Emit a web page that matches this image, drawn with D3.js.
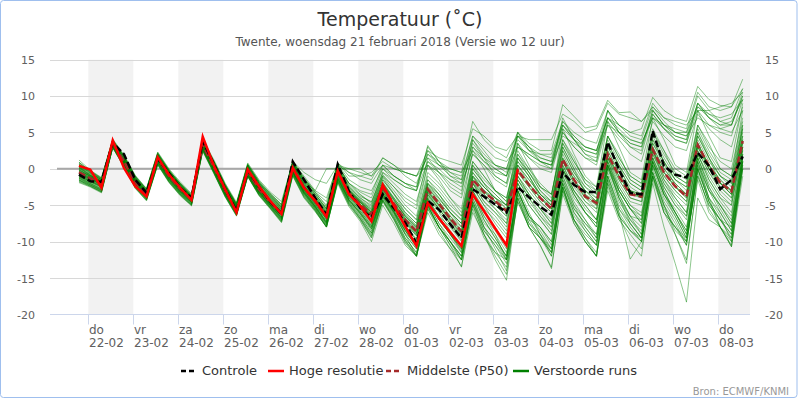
<!DOCTYPE html>
<html>
<head>
<meta charset="utf-8">
<script src="https://cdnjs.cloudflare.com/ajax/libs/d3/7.8.5/d3.min.js"></script>
<style>
  body { margin: 0; background: #fff; }
  svg text { font-family: "DejaVu Sans", Verdana, sans-serif; }
</style>
</head>
<body>
<svg id="chart" width="800" height="400"></svg>
<script>
// dag-labels onder de x-as
var dayNames = ["do", "vr", "za", "zo", "ma", "di", "wo", "do", "vr", "za", "zo", "ma", "di", "wo", "do"];
var dayDates = ["22-02", "23-02", "24-02", "25-02", "26-02", "27-02", "28-02", "01-03", "02-03", "03-03", "04-03", "05-03", "06-03", "07-03", "08-03"];
var yTicks = [-20, -15, -10, -5, 0, 5, 10, 15];

// 6-uurlijkse waarden vanaf wo 21-02 19 uur
var controle = [-0.8, -1.7, -1.8, 3.6, 2.0, -1.5, -3.3, 1.4, -0.6, -2.6, -4.0, 3.8, 0.6, -2.8, -5.8, -0.2, -2.4, -4.5, -6.2, 1.0, -1.5, -4.0, -6.3, 0.6, -3.1, -5.4, -6.7, -3.5, -5.4, -7.4, -10.2, -4.4, -5.6, -7.6, -9.5, -2.8, -3.8, -4.9, -6.0, -2.5, -3.9, -5.2, -6.3, -0.5, -2.2, -3.2, -3.2, 3.65, -0.1, -3.3, -3.5, 5.2, 0.4, -0.8, -1.2, 2.2, 0.4, -2.8, -1.5, 1.7];
var hogeResolutie = [0.4, -0.1, -2.6, 3.9, 0.1, -2.4, -3.8, 1.6, -0.8, -2.6, -4.3, 4.4, 0.4, -2.8, -6.0, -0.1, -2.4, -4.4, -6.2, 0.1, -2.6, -4.4, -6.6, -0.3, -3.5, -5.1, -7.2, -2.2, -5.1, -7.9, -10.6, -4.7, -6.8, -8.7, -10.6, -3.5, -5.8, -8.2, -10.5, -0.1];
var middelste = [-0.5, -1.3, -2.0, 3.5, 1.0, -1.8, -3.5, 1.4, -1.0, -2.8, -4.2, 3.3, 0.2, -3.0, -5.8, -0.3, -2.8, -4.6, -6.1, 0.2, -2.6, -4.5, -6.5, -0.4, -3.3, -4.9, -6.3, -2.6, -4.8, -7.0, -8.6, -2.8, -4.8, -6.8, -8.6, -1.5, -3.2, -4.4, -5.8, -0.2, -2.2, -4.0, -5.5, 1.3, -1.5, -3.8, -4.7, 2.0, -1.0, -3.5, -3.8, 2.65, -0.5, -2.4, -3.8, 3.3, 0.4, -1.9, -3.1, 3.8];

var verstoordeRuns = [
  [-0.3, -1.2, -2.2, 3.6, 1.2, -1.6, -3.4, 1.6, -0.8, -2.6, -4.0, 3.4, 0.5, -2.9, -5.4, -0.1, -2.5, -4.3, -6.0, 0.4, -2.3, -4.2, -6.2, -0.1, -3.0, -4.6, -6.0, -2.0, -4.2, -6.5, -8.0, -2.0, -4.0, -6.0, -8.0, -1.0, -2.5, -4.0, -5.5, 0.5, -1.5, -3.5, -5.0, 2.0, -1.0, -3.0, -4.5, 2.5, -0.5, -3.0, -3.5, 3.0, 0.0, -2.0, -3.5, 3.5, 0.5, -1.5, -3.0, 4.0],
  [-1.2, -2.0, -2.8, 3.2, 0.6, -2.2, -3.9, 1.0, -1.4, -3.2, -4.6, 2.9, -0.2, -3.4, -6.0, -0.7, -3.2, -5.0, -6.8, -0.4, -3.2, -5.2, -7.4, -1.2, -4.2, -6.0, -8.2, -3.6, -6.0, -8.5, -10.8, -4.5, -6.8, -9.0, -11.5, -3.5, -6.5, -9.0, -12.5, -2.5, -6.0, -9.0, -11.0, -1.0, -5.0, -8.0, -10.0, 0.5, -4.0, -7.5, -9.5, 1.0, -3.5, -6.0, -9.0, 1.5, -2.5, -5.5, -8.0, 2.0],
  [0.5, -0.6, -1.5, 3.9, 1.6, -1.2, -3.0, 2.0, -0.3, -2.2, -3.8, 3.7, 0.8, -2.5, -5.0, 0.4, -2.0, -3.8, -5.4, 0.8, -1.6, -3.5, -5.5, 0.5, -2.0, -3.5, -4.8, -0.5, -2.0, -3.5, -4.5, 1.0, -0.5, -2.0, -3.0, 3.0, 1.5, 0.0, -1.0, 4.0, 2.5, 1.5, 1.0, 6.0, 4.0, 2.5, 2.0, 7.0, 5.0, 3.5, 3.0, 8.0, 6.0, 4.5, 4.0, 9.0, 7.0, 5.5, 6.0, 10.0],
  [-0.2, -1.0, -1.8, 3.4, 1.1, -1.5, -3.2, 1.7, -0.6, -2.4, -3.9, 3.6, 0.4, -2.7, -5.2, 0.0, -2.6, -4.4, -5.8, 0.6, -2.0, -4.0, -6.0, 0.2, -2.8, -4.4, -5.6, -1.5, -3.5, -5.5, -7.0, -0.5, -2.0, -4.0, -6.0, 1.0, -1.0, -3.0, -4.0, 2.5, 0.0, -2.0, -3.5, 4.0, 1.0, -1.5, -2.5, 4.5, 1.5, -1.0, -2.0, 5.0, 2.0, -0.5, -1.5, 5.5, 2.5, 0.0, -1.0, 6.5],
  [-1.5, -2.2, -3.0, 3.0, 0.5, -2.4, -4.1, 0.8, -1.6, -3.4, -4.8, 2.7, -0.4, -3.6, -6.2, -0.9, -3.4, -5.2, -7.0, -0.6, -3.5, -5.5, -7.8, -1.5, -4.6, -6.6, -8.8, -4.0, -6.5, -9.5, -11.5, -5.0, -8.0, -10.5, -12.5, -5.0, -9.0, -12.5, -15.3, -4.0, -7.5, -9.0, -11.5, -2.0, -5.5, -7.5, -9.0, 0.0, -3.5, -6.5, -7.0, 1.0, -2.5, -5.0, -6.5, 2.0, -1.5, -4.0, -5.0, 3.0],
  [-0.7, -1.5, -2.1, 3.5, 0.9, -1.9, -3.6, 1.3, -1.1, -2.9, -4.3, 3.2, 0.1, -3.1, -5.7, -0.4, -2.9, -4.7, -6.3, 0.0, -2.8, -4.7, -6.7, -0.6, -3.6, -5.2, -6.8, -3.0, -5.2, -7.5, -9.2, -3.5, -5.5, -7.5, -9.5, -2.0, -4.0, -5.5, -7.0, -1.0, -3.0, -5.0, -6.5, 0.5, -2.5, -4.5, -6.0, 1.5, -2.0, -4.5, -5.0, 2.0, -1.5, -3.5, -5.0, 2.5, -0.5, -3.0, -4.5, 3.0],
  [0.8, -0.4, -1.4, 4.0, 1.8, -1.0, -2.8, 2.2, -0.2, -2.0, -3.6, 3.9, 1.0, -2.2, -4.8, 0.6, -1.8, -3.5, -5.0, 1.0, -1.5, -3.0, 0.0, 0.0, 0.0, 0.0, -1.0, 1.5, 0.5, -1.0, -2.0, 2.0, 0.5, -0.5, -1.5, 3.5, 1.5, 0.5, 0.0, 4.5, 2.5, 2.0, 2.0, 6.5, 5.0, 4.0, 3.5, 8.0, 6.0, 5.0, 4.5, 9.0, 7.0, 6.0, 5.5, 10.5, 8.5, 8.0, 8.5, 12.3],
  [-1.0, -1.7, -2.4, 3.3, 0.8, -2.0, -3.7, 1.2, -1.2, -3.0, -4.4, 3.1, 0.0, -3.2, -5.8, -0.5, -3.0, -4.8, -6.4, -0.1, -2.9, -4.9, -6.9, -0.8, -3.8, -5.5, -7.4, -3.2, -5.6, -8.0, -9.8, -3.8, -6.0, -8.5, -10.5, -2.5, -5.0, -7.5, -9.5, -1.5, -4.0, -6.5, -8.5, 0.0, -3.5, -6.0, -7.5, 1.0, -3.0, -5.5, -7.0, 1.5, -2.0, -4.5, -6.5, 2.0, -1.5, -4.0, -6.0, 2.5],
  [0.2, -0.9, -1.7, 3.7, 1.3, -1.4, -3.1, 1.8, -0.5, -2.3, -3.9, 3.5, 0.6, -2.6, -5.1, 0.2, -2.3, -4.0, -5.6, 0.7, -1.9, -3.9, -5.8, 0.3, -2.5, -4.0, -5.2, -1.0, -3.0, -5.0, -6.5, 0.5, -1.5, -4.0, -5.5, 2.5, 0.0, -3.0, -4.5, 3.5, 0.5, -2.5, -4.0, 5.5, 2.0, -1.0, -2.5, 6.5, 3.0, -0.5, -1.5, 7.0, 4.0, 0.5, -0.5, 8.0, 4.5, 1.5, 1.0, 9.0],
  [-1.8, -2.4, -3.2, 2.9, 0.3, -2.6, -4.3, 0.6, -1.8, -3.6, -5.0, 2.5, -0.6, -3.8, -6.4, -1.0, -3.6, -5.4, -7.2, -0.8, -3.8, -5.8, -8.0, -1.8, -5.0, -7.0, -9.5, -4.5, -7.0, -10.0, -12.0, -5.5, -8.5, -11.0, -13.4, -6.0, -9.0, -11.5, -13.5, -4.5, -8.0, -10.5, -13.7, -3.0, -7.0, -9.5, -12.0, -1.5, -6.0, -12.4, -10.0, -1.0, -5.0, -8.5, -10.0, 0.0, -4.5, -8.0, -10.7, 1.0],
  [-0.4, -1.3, -1.9, 3.6, 1.0, -1.7, -3.4, 1.5, -0.9, -2.7, -4.1, 3.4, 0.3, -2.9, -5.5, -0.2, -2.7, -4.5, -6.0, 0.3, -2.5, -4.4, -6.4, -0.3, -3.2, -4.8, -6.2, -2.4, -4.6, -6.8, -8.4, -2.6, -4.5, -6.5, -8.4, -1.2, -3.0, -4.5, -6.0, 0.0, -2.0, -4.0, -5.5, 1.5, -1.5, -4.0, -5.0, 2.0, -1.0, -3.5, -4.0, 2.5, -0.5, -2.5, -4.0, 3.0, 0.0, -2.0, -3.5, 3.5],
  [0.6, -0.5, -1.6, 3.8, 1.5, -1.3, -3.0, 1.9, -0.4, -2.1, -3.7, 3.8, 0.9, -2.3, -4.9, 0.5, -1.9, -3.6, -5.2, 0.9, -1.2, -3.2, -4.5, 0.8, -0.5, -1.5, -2.0, 0.5, -1.0, -2.0, -2.5, 2.0, 1.0, 0.0, -0.5, 6.5, 4.0, 2.5, 1.5, 5.0, 3.5, 2.5, 2.5, 8.8, 7.2, 5.6, 5.9, 9.4, 7.7, 7.8, 6.5, 8.1, 6.0, 5.0, 4.5, 7.0, 6.0, 5.5, 5.0, 8.0],
  [-1.3, -2.1, -2.9, 3.1, 0.6, -2.3, -4.0, 0.9, -1.5, -3.3, -4.7, 2.8, -0.3, -3.5, -6.1, -0.8, -3.3, -5.1, -6.9, -0.5, -3.4, -5.4, -7.6, -1.4, -4.4, -6.3, -8.5, -3.8, -6.2, -9.0, -11.0, -4.8, -7.5, -10.0, -12.0, -4.0, -8.0, -11.0, -14.0, -3.0, -6.5, -8.5, -11.0, -1.5, -5.0, -7.0, -9.0, 0.5, -4.0, -7.0, -8.5, 0.5, -3.5, -6.5, -9.5, 1.0, -3.0, -6.0, -8.5, 2.0],
  [0.0, -1.1, -1.8, 3.5, 1.1, -1.6, -3.3, 1.6, -0.7, -2.5, -4.0, 3.5, 0.4, -2.8, -5.3, -0.1, -2.6, -4.3, -5.9, 0.5, -2.2, -4.1, -6.1, 0.0, -2.9, -4.4, -5.8, -1.8, -4.0, -6.0, -7.5, -1.5, -3.5, -5.5, -7.0, 0.0, -2.0, -3.5, -5.0, 1.5, -0.5, -3.0, -4.5, 3.0, 0.0, -2.5, -4.0, 3.5, 0.5, -2.0, -3.0, 4.0, 1.0, -1.5, -2.5, 4.5, 1.5, -1.0, -2.0, 5.5],
  [-0.9, -1.6, -2.3, 3.4, 0.8, -2.0, -3.7, 1.2, -1.2, -3.0, -4.4, 3.0, -0.1, -3.2, -5.9, -0.6, -3.1, -4.9, -6.5, -0.2, -3.0, -5.0, -7.0, -0.9, -3.9, -5.6, -7.6, -3.4, -5.8, -8.2, -10.2, -4.2, -6.5, -8.0, -10.0, -3.0, -5.5, -7.0, -9.0, -2.0, -4.5, -6.5, -8.0, -0.5, -4.0, -6.0, -8.0, 0.5, -3.5, -6.5, -8.0, 1.0, -3.0, -6.0, -8.5, 1.5, -2.5, -5.0, -7.0, 2.0],
  [0.3, -0.8, -1.7, 3.7, 1.4, -1.4, -3.1, 1.8, -0.5, -2.3, -3.9, 3.6, 0.6, -2.6, -5.1, 0.2, -2.2, -4.0, -5.5, 0.7, -1.8, -3.8, -5.7, 0.3, -2.4, -3.8, -4.5, -0.5, -1.5, -2.5, -3.0, 1.0, 0.0, -1.5, -2.5, 3.0, 1.0, -0.5, -1.0, 4.5, 3.0, 2.0, 1.5, 6.0, 4.5, 3.0, 2.5, 7.0, 6.0, 5.0, 5.5, 9.8, 8.0, 7.0, 6.5, 11.3, 9.5, 8.7, 8.5, 11.0],
  [-0.6, -1.4, -2.1, 3.5, 0.9, -1.8, -3.5, 1.4, -1.0, -2.8, -4.2, 3.3, 0.2, -3.0, -5.6, -0.3, -2.8, -4.6, -6.2, 0.1, -2.7, -4.6, -6.6, -0.5, -3.4, -5.0, -6.5, -2.8, -5.0, -7.2, -8.8, -3.0, -5.0, -7.0, -9.0, -1.5, -3.5, -5.0, -6.5, -0.5, -2.5, -4.5, -6.0, 1.0, -2.0, -4.0, -5.5, 2.0, -1.5, -4.0, -4.5, 2.5, -1.0, -3.0, -4.5, 3.0, 0.0, -2.5, -4.0, 3.5],
  [0.9, -0.3, -1.3, 3.9, 1.7, -1.1, -2.9, 2.1, -0.2, -2.0, -3.6, 3.9, 1.0, -2.2, -4.8, 0.6, -1.7, -3.4, -4.9, 1.0, -1.3, -3.3, -5.0, 0.6, -1.5, -2.5, -3.0, 0.0, -1.0, -2.0, -3.0, 3.2, 1.0, -0.5, -1.0, 4.5, 3.0, 1.5, 1.0, 3.0, 2.0, 1.0, 0.5, 4.5, 3.5, 2.5, 2.0, 6.0, 5.0, 4.0, 3.5, 7.0, 6.0, 5.5, 5.0, 8.5, 7.5, 7.0, 7.5, 9.5],
  [-1.6, -2.3, -3.1, 3.0, 0.4, -2.5, -4.2, 0.7, -1.7, -3.5, -4.9, 2.6, -0.5, -3.7, -6.3, -1.0, -3.5, -5.3, -7.1, -0.7, -3.6, -5.6, -7.9, -1.7, -4.8, -6.8, -9.2, -4.3, -6.8, -9.8, -12.0, -5.0, -8.0, -10.0, -12.5, -4.5, -8.5, -10.5, -12.5, -3.5, -7.0, -8.0, -10.0, -2.0, -6.0, -8.5, -10.5, -1.0, -5.5, -8.0, -10.0, -0.5, -5.0, -9.0, -13.0, -1.0, -5.0, -7.0, -9.5, 0.5],
  [-0.1, -1.0, -1.9, 3.6, 1.1, -1.6, -3.3, 1.6, -0.8, -2.6, -4.0, 3.5, 0.4, -2.8, -5.4, -0.1, -2.6, -4.4, -5.9, 0.4, -2.4, -4.3, -6.3, -0.2, -3.1, -4.6, -6.0, -2.2, -4.4, -6.6, -8.2, -2.4, -4.2, -6.0, -7.5, -0.5, -2.5, -4.0, -5.5, 1.0, -1.0, -3.5, -5.0, 2.5, -0.5, -3.0, -4.5, 3.0, 0.0, -2.5, -3.5, 3.5, 0.5, -1.5, -3.0, 4.0, 1.0, -1.0, -2.5, 4.5],
  [-1.4, -2.1, -2.9, 3.1, 0.5, -2.3, -4.0, 0.9, -1.5, -3.3, -4.7, 2.8, -0.3, -3.5, -6.1, -0.8, -3.3, -5.1, -6.8, -0.5, -3.3, -5.3, -7.5, -1.3, -4.3, -6.2, -8.3, -3.8, -6.0, -8.8, -10.5, -4.5, -7.0, -9.0, -11.0, -3.5, -7.0, -9.5, -12.0, -3.0, -7.0, -9.5, -11.5, -2.5, -7.5, -10.0, -12.0, -3.0, -7.0, -9.0, -11.0, -2.0, -8.0, -13.0, -18.3, -4.0, -7.0, -8.0, -9.5, 0.0],
  [0.1, -0.9, -1.7, 3.6, 1.2, -1.5, -3.2, 1.7, -0.6, -2.4, -3.9, 3.6, 0.5, -2.7, -5.2, 0.1, -2.4, -4.2, -5.7, 0.6, -2.1, -4.1, -6.0, 0.1, -2.7, -4.2, -5.4, -1.2, -3.4, -5.5, -7.0, -1.0, -2.5, -4.5, -6.5, 0.5, -1.5, -3.0, -4.5, 2.0, 0.0, -2.5, -3.5, 3.5, 1.0, -1.5, -3.0, 4.5, 1.5, -1.0, -2.0, 5.5, 2.5, 0.0, -1.0, 6.0, 3.0, 1.0, 0.0, 7.0],
  [-1.1, -1.8, -2.5, 3.3, 0.7, -2.1, -3.8, 1.1, -1.3, -3.1, -4.5, 3.0, -0.1, -3.3, -5.9, -0.6, -3.1, -4.9, -6.6, -0.3, -3.1, -5.1, -7.2, -1.0, -4.0, -5.8, -7.8, -3.5, -5.8, -8.4, -10.4, -4.0, -6.5, -8.8, -10.8, -3.0, -6.0, -8.0, -10.5, -2.0, -5.0, -7.0, -9.0, -1.0, -4.5, -7.0, -9.5, 0.0, -4.0, -6.5, -9.0, 0.5, -3.5, -5.5, -8.0, 1.0, -3.0, -5.0, -7.5, 1.5],
  [0.4, -0.7, -1.6, 3.8, 1.4, -1.3, -3.0, 1.9, -0.4, -2.2, -3.8, 3.7, 0.7, -2.5, -5.0, 0.3, -2.1, -3.9, -5.4, 0.8, -1.7, -3.7, -5.6, 0.4, -2.2, -3.6, -4.6, -0.8, -2.5, -4.0, -5.0, 1.5, -0.5, -2.5, -3.5, 4.0, 1.5, -1.0, -2.0, 5.0, 2.5, 1.0, 0.0, 7.0, 4.0, 2.0, 1.0, 8.0, 5.0, 3.0, 2.0, 7.5, 5.5, 4.0, 3.5, 8.0, 6.0, 5.0, 4.5, 9.5],
  [-0.5, -1.3, -2.0, 3.5, 1.0, -1.8, -3.5, 1.4, -1.0, -2.8, -4.2, 3.3, 0.2, -3.0, -5.6, -0.3, -2.8, -4.6, -6.1, 0.2, -2.6, -4.5, -6.5, -0.4, -3.3, -4.9, -6.3, -2.6, -4.8, -7.0, -8.6, -2.8, -4.8, -6.8, -8.6, -1.5, -3.2, -4.6, -5.8, -0.2, -2.2, -4.0, -5.5, 1.3, -1.5, -3.8, -4.7, 2.0, -1.0, -3.5, -3.8, 2.7, -0.5, -2.4, -3.8, 3.3, 0.4, -1.9, -3.1, 3.8],
  [-1.7, -2.4, -3.2, 2.9, 0.3, -2.6, -4.3, 0.6, -1.8, -3.6, -5.0, 2.5, -0.6, -3.8, -6.4, -1.0, -3.6, -5.4, -7.3, -0.9, -3.9, -5.7, -8.0, -1.8, -4.9, -6.9, -9.4, -4.4, -7.0, -10.2, -12.0, -5.5, -8.0, -10.0, -12.0, -4.5, -8.0, -10.0, -12.5, -3.5, -7.5, -9.5, -11.5, -2.5, -7.0, -10.0, -12.0, -1.5, -6.0, -8.5, -10.0, -1.0, -5.5, -8.0, -10.5, 0.0, -4.5, -7.0, -9.0, 1.0],
  [0.2, -0.9, -1.8, 3.6, 1.2, -1.5, -3.2, 1.7, -0.6, -2.5, -3.9, 3.5, 0.5, -2.7, -5.3, 0.0, -2.5, -4.3, -5.8, 0.5, -2.3, -4.2, -6.2, 0.0, -2.9, -4.3, -5.6, -1.5, -3.5, -6.0, -7.5, -1.5, -3.0, -5.0, -6.5, 1.0, -1.0, -3.0, -4.0, 2.0, -0.5, -2.5, -3.5, 4.0, 1.5, -2.0, -3.0, 4.5, 2.0, -1.5, -2.5, 5.0, 2.5, -1.0, -2.0, 6.0, 3.5, 0.0, -1.0, 8.0],
  [-0.8, -1.6, -2.3, 3.4, 0.9, -2.0, -3.7, 1.2, -1.1, -3.0, -4.3, 3.1, 0.0, -3.2, -5.8, -0.5, -3.0, -4.8, -6.4, -0.1, -2.9, -4.8, -6.9, -0.7, -3.7, -5.4, -7.0, -3.1, -5.4, -7.8, -9.6, -3.5, -5.5, -7.5, -9.5, -2.0, -4.5, -6.0, -7.5, -1.5, -3.5, -5.5, -7.0, 0.0, -3.0, -5.5, -7.0, 1.0, -2.5, -5.0, -6.0, 1.5, -2.0, -4.0, -6.0, 2.0, -1.0, -3.5, -5.0, 3.0],
  [0.7, -0.4, -1.4, 3.9, 1.7, -1.1, -2.8, 2.1, -0.2, -2.1, -3.7, 3.8, 0.9, -2.3, -4.9, 0.5, -1.9, -3.6, -5.1, 0.9, -1.4, -3.2, -5.2, 0.8, -1.0, -1.0, -0.5, 1.0, 0.0, -0.5, -1.0, 1.5, 0.5, 0.0, -0.5, 2.5, 1.0, 0.0, -1.0, 3.0, 2.0, 1.0, 0.5, 5.5, 4.0, 3.0, 2.5, 7.0, 5.5, 4.0, 3.5, 7.0, 5.5, 4.5, 4.0, 8.5, 7.0, 6.0, 6.0, 10.0],
  [-1.9, -2.5, -3.3, 2.9, 0.2, -2.7, -4.4, 0.5, -1.9, -3.7, -5.1, 2.4, -0.7, -3.9, -6.5, -1.1, -3.7, -5.5, -7.4, -1.0, -4.0, -5.9, -8.0, -2.0, -5.2, -7.2, -10.0, -5.0, -7.5, -10.5, -12.0, -6.0, -9.0, -11.0, -12.5, -5.5, -9.5, -11.5, -12.5, -4.0, -8.0, -9.5, -11.0, -3.0, -7.0, -9.0, -10.5, -2.5, -6.5, -8.5, -9.5, -1.5, -6.0, -8.0, -9.5, -1.0, -5.0, -7.0, -8.0, 0.5],
  [-0.3, -1.2, -2.0, 3.5, 1.0, -1.7, -3.4, 1.5, -0.9, -2.7, -4.1, 3.4, 0.3, -2.9, -5.5, -0.2, -2.7, -4.5, -6.1, 0.2, -2.6, -4.5, -6.5, -0.4, -3.3, -4.9, -6.4, -2.6, -4.8, -7.0, -8.8, -3.0, -5.0, -7.0, -8.5, -1.0, -3.0, -4.5, -6.0, 0.5, -2.0, -4.0, -5.0, 1.0, -1.5, -3.5, -4.5, 1.5, -1.0, -3.0, -4.0, 2.5, -0.5, -2.5, -3.5, 3.0, 0.5, -2.0, -3.0, 4.0],
  [0.5, -0.6, -1.5, 3.8, 1.5, -1.2, -3.0, 1.9, -0.4, -2.2, -3.8, 3.7, 0.8, -2.4, -5.0, 0.4, -2.0, -3.8, -5.3, 0.8, -1.6, -3.5, -5.4, 0.5, -2.0, -3.2, -4.0, 0.0, -1.5, -2.5, -3.0, 2.5, 0.5, -1.0, -2.0, 4.0, 2.0, 0.5, -0.5, 4.5, 3.0, 1.5, 1.0, 6.5, 4.5, 3.0, 2.5, 8.0, 6.0, 4.5, 4.0, 8.5, 6.5, 5.0, 5.0, 10.0, 8.0, 6.5, 7.0, 11.0],
  [-0.6, -1.4, -2.2, 3.4, 0.9, -1.9, -3.6, 1.3, -1.1, -2.9, -4.3, 3.2, 0.1, -3.1, -5.7, -0.4, -2.9, -4.7, -6.3, 0.0, -2.8, -4.7, -6.7, -0.6, -3.5, -5.1, -6.6, -2.8, -5.0, -7.3, -9.0, -3.2, -5.2, -7.2, -9.2, -1.8, -3.8, -5.5, -7.5, -1.0, -3.5, -5.5, -7.5, 0.0, -3.0, -5.0, -7.0, 0.5, -3.0, -5.5, -7.5, 0.5, -3.5, -6.0, -9.0, 0.5, -3.0, -5.0, -7.5, 1.5],
  [-1.2, -1.9, -2.7, 3.2, 0.6, -2.2, -3.9, 1.0, -1.4, -3.2, -4.6, 2.9, -0.2, -3.4, -6.0, -0.7, -3.2, -5.0, -6.7, -0.4, -3.2, -5.2, -7.3, -1.2, -4.2, -6.0, -8.0, -3.6, -6.0, -9.0, -12.0, -5.0, -8.0, -10.5, -13.5, -4.5, -8.0, -10.0, -12.0, -3.0, -6.5, -8.0, -10.0, -1.5, -5.5, -7.5, -9.5, -0.5, -4.5, -7.0, -9.0, 0.0, -4.0, -6.5, -9.5, 0.5, -4.0, -6.5, -10.0, 1.0],
  [-0.2, -1.1, -1.9, 3.6, 1.1, -1.6, -3.3, 1.6, -0.7, -2.6, -4.0, 3.4, 0.4, -2.8, -5.4, -0.1, -2.6, -4.4, -5.9, 0.4, -2.4, -4.3, -6.3, -0.2, -3.0, -4.5, -6.0, -2.0, -4.0, -6.2, -7.8, -2.0, -3.5, -5.5, -7.0, 0.5, -2.0, -3.5, -5.0, 1.5, -0.5, -3.0, -4.5, 3.5, 0.5, -2.0, -3.5, 4.0, 1.0, -1.5, -2.5, 4.5, 1.5, -1.0, -2.0, 5.0, 2.0, -0.5, -1.5, 6.0],
  [1.2, -0.2, -1.2, 4.1, 1.9, -0.9, -2.7, 2.3, 0.0, -1.8, -3.4, 4.1, 1.2, -2.0, -4.6, 0.8, -1.5, -3.2, -4.5, 1.0, -0.5, -1.5, -2.0, 0.5, 0.0, -0.5, -1.0, 0.5, 0.0, -0.5, -1.0, 0.5, -0.5, -1.5, -2.0, 2.0, 0.5, -1.0, -2.0, 3.5, 1.5, 0.5, 0.0, 5.0, 3.0, 1.5, 1.0, 6.5, 4.5, 3.0, 2.5, 8.0, 6.0, 5.0, 4.5, 9.0, 7.5, 6.5, 6.0, 10.5],
  [-1.5, -2.2, -3.0, 3.0, 0.5, -2.4, -4.1, 0.8, -1.6, -3.4, -4.8, 2.7, -0.4, -3.6, -6.2, -0.9, -3.4, -5.2, -7.0, -0.6, -3.4, -5.5, -7.7, -1.5, -4.5, -6.5, -8.8, -4.2, -6.6, -9.5, -11.5, -5.2, -8.0, -10.0, -12.0, -4.8, -8.5, -10.5, -13.0, -4.5, -8.0, -10.5, -13.5, -3.5, -7.5, -10.0, -12.0, -2.0, -6.5, -8.5, -10.0, -1.0, -6.0, -8.0, -10.0, -0.5, -5.5, -8.0, -10.5, 0.0],
  [-0.4, -1.3, -2.0, 3.5, 1.0, -1.8, -3.5, 1.4, -1.0, -2.8, -4.2, 3.3, 0.2, -3.0, -5.6, -0.3, -2.8, -4.6, -6.1, 0.2, -2.6, -4.5, -6.5, -0.4, -3.3, -4.9, -6.3, -2.6, -4.8, -6.8, -8.4, -2.5, -4.5, -6.5, -8.0, -1.0, -3.0, -4.0, -5.0, 0.5, -1.5, -3.5, -5.0, 1.5, -1.0, -3.0, -4.0, 2.5, -0.5, -3.0, -3.5, 3.0, 0.0, -2.0, -3.5, 3.5, 0.5, -1.5, -3.0, 4.5],
  [0.9, -0.3, -1.3, 3.9, 1.7, -1.0, -2.8, 2.1, -0.2, -2.0, -3.6, 3.9, 1.0, -2.2, -4.8, 0.6, -1.7, -3.4, -4.9, 1.0, -1.0, -3.0, -4.0, 0.5, -0.5, -1.0, -1.5, 1.5, 0.5, -0.5, -1.0, 2.5, 1.5, 1.0, 0.5, 5.5, 4.5, 3.0, 2.5, 4.5, 4.0, 4.0, 4.0, 7.5, 6.5, 5.0, 5.5, 9.0, 7.5, 7.0, 6.5, 8.5, 7.0, 6.5, 6.0, 8.0, 8.0, 8.5, 9.0, 10.5],
  [-1.0, -1.7, -2.5, 3.3, 0.7, -2.1, -3.8, 1.1, -1.3, -3.1, -4.5, 3.0, -0.1, -3.3, -5.9, -0.6, -3.2, -5.0, -6.7, -0.4, -3.2, -5.2, -7.4, -1.2, -4.3, -6.1, -8.2, -3.9, -6.3, -9.0, -11.0, -4.8, -7.5, -9.5, -11.5, -4.0, -7.5, -9.0, -11.5, -3.0, -6.5, -8.0, -10.5, -2.0, -6.0, -8.0, -10.0, -1.0, -5.0, -7.5, -9.5, -0.5, -4.5, -7.0, -10.0, 0.0, -4.0, -6.0, -8.5, 1.5],
  [0.1, -1.0, -1.8, 3.6, 1.2, -1.5, -3.2, 1.7, -0.6, -2.5, -3.9, 3.5, 0.5, -2.7, -5.3, 0.0, -2.5, -4.3, -5.8, 0.5, -2.3, -4.2, -6.2, 0.0, -3.0, -4.5, -5.9, -2.0, -4.2, -6.5, -8.0, -2.0, -3.5, -6.0, -7.5, 0.0, -2.0, -4.5, -6.0, 1.5, -1.0, -4.0, -5.5, 3.0, 0.0, -3.5, -5.0, 3.5, 0.5, -3.0, -4.0, 4.0, 1.0, -2.5, -4.0, 5.0, 1.5, -2.0, -3.5, 6.0],
  [-1.3, -2.0, -2.8, 3.2, 0.6, -2.2, -3.9, 1.0, -1.4, -3.2, -4.6, 2.9, -0.2, -3.4, -6.0, -0.7, -3.2, -5.0, -6.8, -0.4, -3.3, -5.3, -7.5, -1.3, -4.3, -6.1, -8.0, -3.5, -6.0, -8.5, -10.5, -4.0, -7.0, -9.0, -11.0, -3.0, -6.5, -8.5, -11.0, -2.0, -5.0, -7.0, -9.0, 0.0, -3.5, -6.0, -8.0, 1.5, -2.5, -5.0, -6.5, 2.5, -1.5, -4.0, -6.0, 3.5, 0.0, -2.0, -3.5, 5.0],
  [-0.7, -1.5, -2.2, 3.4, 0.9, -1.9, -3.6, 1.3, -1.1, -2.9, -4.3, 3.2, 0.1, -3.1, -5.7, -0.4, -2.9, -4.7, -6.2, 0.1, -2.7, -4.6, -6.6, -0.5, -3.4, -5.0, -6.5, -2.8, -5.0, -7.2, -9.0, -3.2, -5.0, -7.0, -9.0, -2.0, -3.5, -5.0, -6.5, -0.5, -2.5, -4.5, -6.0, 1.0, -2.0, -4.5, -5.5, 1.5, -1.5, -4.0, -4.5, 2.0, -1.0, -3.0, -4.5, 2.5, -0.5, -2.5, -4.0, 3.0],
  [0.6, -0.5, -1.5, 3.8, 1.5, -1.2, -3.0, 1.9, -0.4, -2.2, -3.8, 3.7, 0.8, -2.4, -5.0, 0.4, -2.0, -3.7, -5.3, 0.8, -1.5, -3.5, -5.5, 0.5, -2.0, -3.0, -3.5, 0.5, -1.0, -2.0, -2.5, 3.0, 1.0, -1.0, -1.5, 4.5, 2.5, 0.5, 0.0, 5.0, 3.0, 1.0, 0.5, 6.0, 4.0, 2.0, 1.5, 7.0, 5.0, 3.5, 3.0, 7.5, 5.5, 4.0, 3.5, 9.0, 7.0, 6.0, 6.5, 9.5],
  [-1.1, -1.8, -2.6, 3.3, 0.7, -2.1, -3.8, 1.1, -1.3, -3.1, -4.5, 3.0, -0.1, -3.3, -5.9, -0.6, -3.1, -4.9, -6.6, -0.3, -3.1, -5.1, -7.2, -1.0, -4.0, -5.8, -7.8, -3.4, -5.8, -8.5, -10.6, -4.2, -7.0, -9.0, -11.2, -3.5, -7.0, -9.5, -12.0, -3.0, -6.5, -9.0, -12.0, -2.5, -7.0, -9.5, -11.5, -2.0, -6.5, -10.0, -12.0, -1.0, -6.0, -9.0, -12.5, -1.5, -6.0, -8.0, -10.0, 0.0],
  [0.3, -0.8, -1.7, 3.7, 1.3, -1.4, -3.1, 1.8, -0.5, -2.4, -3.9, 3.6, 0.6, -2.6, -5.2, 0.2, -2.3, -4.1, -5.6, 0.7, -2.0, -3.9, -5.9, 0.2, -2.6, -4.0, -5.0, -1.0, -2.5, -4.5, -5.5, 0.5, -1.0, -3.0, -4.0, 2.0, 0.5, -1.5, -2.5, 3.0, 1.5, 0.0, -0.5, 5.0, 3.0, 1.5, 0.5, 6.0, 4.0, 2.0, 1.0, 6.5, 4.5, 3.0, 2.5, 7.5, 5.5, 4.0, 3.0, 8.5],
  [-0.9, -1.7, -2.4, 3.3, 0.8, -2.0, -3.7, 1.2, -1.2, -3.0, -4.4, 3.1, 0.0, -3.2, -5.8, -0.5, -3.0, -4.8, -6.4, -0.1, -2.9, -4.9, -6.9, -0.8, -3.8, -5.4, -7.2, -3.2, -5.5, -7.9, -9.8, -3.6, -5.8, -7.8, -9.8, -2.5, -5.0, -6.5, -8.5, -1.5, -4.0, -6.0, -8.0, -0.5, -3.5, -6.0, -7.5, 0.5, -3.0, -5.5, -6.5, 1.0, -2.5, -5.0, -7.0, 1.5, -2.0, -4.5, -6.5, 2.5],
  [-1.6, -2.3, -3.1, 3.0, 0.4, -2.5, -4.2, 0.7, -1.7, -3.5, -4.9, 2.6, -0.5, -3.7, -6.3, -1.0, -3.5, -5.3, -7.2, -0.8, -3.7, -5.7, -8.0, -1.6, -4.7, -6.8, -9.0, -4.3, -6.8, -9.8, -11.8, -5.2, -8.0, -10.0, -12.5, -5.0, -9.0, -12.0, -14.5, -4.0, -8.0, -9.5, -12.0, -2.5, -6.5, -8.5, -10.5, -1.0, -5.5, -7.5, -9.5, -0.5, -5.0, -7.5, -10.5, 0.0, -4.5, -7.0, -9.0, 1.0],
  [-0.1, -1.1, -1.9, 3.6, 1.1, -1.6, -3.3, 1.6, -0.7, -2.6, -4.0, 3.5, 0.4, -2.8, -5.4, -0.1, -2.6, -4.4, -5.9, 0.4, -2.4, -4.3, -6.3, -0.2, -3.0, -4.6, -6.1, -2.2, -4.3, -6.4, -8.0, -2.2, -4.0, -6.0, -7.5, -0.5, -2.5, -4.0, -5.0, 1.0, -1.0, -3.5, -4.5, 2.5, -0.5, -2.5, -3.5, 3.0, 0.5, -2.0, -3.0, 3.5, 1.0, -1.5, -2.5, 4.5, 1.5, -1.0, -2.0, 5.5],
  [-0.6, -1.4, -2.1, 3.5, 0.9, -1.8, -3.5, 1.4, -1.0, -2.8, -4.2, 3.3, 0.2, -3.0, -5.6, -0.3, -2.8, -4.6, -6.2, 0.1, -2.7, -4.6, -6.6, -0.5, -3.4, -5.0, -6.6, -2.9, -5.1, -7.4, -9.2, -3.3, -5.5, -7.5, -9.5, -2.0, -4.5, -6.0, -8.0, -1.0, -3.5, -5.5, -7.5, 0.5, -3.0, -5.0, -7.0, 1.0, -3.0, -5.5, -7.5, 1.5, -3.0, -6.0, -8.5, 1.0, -4.0, -8.0, -10.7, -1.0]
];

var runStart = Date.UTC(2018, 1, 21, 19);
var stepMs = 6 * 3600 * 1000;
var times = middelste.map((d, i) => new Date(runStart + i * stepMs));

var svg = d3.select("#chart");
var plot = { left: 50, right: 750, top: 59.5, bottom: 314.5 };

var x = d3.scaleUtc()
    .domain([new Date(Date.UTC(2018, 1, 21, 3, 33)), new Date(Date.UTC(2018, 2, 8, 16, 53))])
    .range([plot.left, plot.right]);
var y = d3.scaleLinear().domain([-20, 15]).range([plot.bottom, plot.top]);

var days = d3.utcDay.range(new Date(Date.UTC(2018, 1, 22)), new Date(Date.UTC(2018, 2, 9)));

svg.append("defs").append("clipPath").attr("id", "plotclip")
  .append("rect")
    .attr("x", plot.left).attr("y", plot.top)
    .attr("width", plot.right - plot.left).attr("height", plot.bottom - plot.top);

// grijze banden om de dag
svg.append("g").attr("clip-path", "url(#plotclip)")
  .selectAll("rect").data(days.filter((d, i) => i % 2 == 0))
  .join("rect")
    .attr("x", d => x(d))
    .attr("y", plot.top)
    .attr("width", d => x(d3.utcDay.offset(d, 1)) - x(d))
    .attr("height", plot.bottom - plot.top)
    .attr("fill", "#f2f2f2");

// horizontale rasterlijnen
svg.append("g").selectAll("line").data(yTicks.filter(t => t > -20))
  .join("line")
    .attr("x1", plot.left).attr("x2", plot.right)
    .attr("y1", d => Math.round(y(d)) + 0.5).attr("y2", d => Math.round(y(d)) + 0.5)
    .attr("stroke", "#d8d8d8");

// nullijn
svg.append("line")
    .attr("x1", 57).attr("x2", plot.right)
    .attr("y1", y(0)).attr("y2", y(0))
    .attr("stroke", "#a8a8a8").attr("stroke-width", 2);

// y-as labels links en rechts
svg.append("g").selectAll("text").data(yTicks)
  .join("text")
    .attr("x", 35).attr("y", d => y(d) + 4.5)
    .attr("text-anchor", "end")
    .attr("font-size", 11).attr("fill", "#606060")
    .text(d => d);
svg.append("g").selectAll("text").data(yTicks)
  .join("text")
    .attr("x", 765).attr("y", d => y(d) + 4.5)
    .attr("font-size", 11).attr("fill", "#606060")
    .text(d => d);

// x-as
svg.append("line")
    .attr("x1", plot.left).attr("x2", plot.right)
    .attr("y1", plot.bottom).attr("y2", plot.bottom)
    .attr("stroke", "#ccd6eb");
var xt = svg.append("g").selectAll("g").data(days.slice(0, dayNames.length))
  .join("g")
    .attr("transform", d => "translate(" + (Math.round(x(d)) + 0.5) + ",0)");
xt.append("line")
    .attr("y1", plot.bottom).attr("y2", plot.bottom + 10)
    .attr("stroke", "#ccd6eb");
xt.append("text")
    .attr("x", 0.5).attr("y", 334)
    .attr("font-size", 12).attr("fill", "#606060")
    .text((d, i) => dayNames[i]);
xt.append("text")
    .attr("x", 0.5).attr("y", 347)
    .attr("font-size", 12).attr("fill", "#606060")
    .text((d, i) => dayDates[i]);

var line = d3.line()
    .x((d, i) => x(times[i]))
    .y(d => y(d));

var lines = svg.append("g").attr("clip-path", "url(#plotclip)");

lines.selectAll(".run").data(verstoordeRuns)
  .join("path")
    .attr("class", "run")
    .attr("d", line)
    .attr("fill", "none")
    .attr("stroke", "#008000")
    .attr("stroke-opacity", 0.45)
    .attr("stroke-width", 1);

lines.append("path").attr("d", line(middelste))
    .attr("fill", "none").attr("stroke", "#a52a2a")
    .attr("stroke-width", 2.5).attr("stroke-dasharray", "7,3");
lines.append("path").attr("d", line(controle))
    .attr("fill", "none").attr("stroke", "#000")
    .attr("stroke-width", 2.5).attr("stroke-dasharray", "7,3");
lines.append("path").attr("d", line(hogeResolutie))
    .attr("fill", "none").attr("stroke", "#ff0000")
    .attr("stroke-width", 2.5);

// titels
svg.append("text")
    .attr("x", 400).attr("y", 26)
    .attr("text-anchor", "middle")
    .attr("font-size", 19).attr("fill", "#333")
    .text("Temperatuur (\u02DAC)");
svg.append("text")
    .attr("x", 400).attr("y", 46)
    .attr("text-anchor", "middle")
    .attr("font-size", 12).attr("fill", "#555")
    .text("Twente, woensdag 21 februari 2018 (Versie wo 12 uur)");

// legenda
var legend = [
  { name: "Controle", color: "#000", dash: "5,3", x: 181 },
  { name: "Hoge resolutie", color: "#ff0000", dash: null, x: 268 },
  { name: "Middelste (P50)", color: "#a52a2a", dash: "5,3", x: 386 },
  { name: "Verstoorde runs", color: "#008000", dash: null, x: 513 }
];
var li = svg.append("g").selectAll("g").data(legend)
  .join("g")
    .attr("transform", d => "translate(" + d.x + ",375)");
li.append("line")
    .attr("x1", 0).attr("x2", 16).attr("y1", -4).attr("y2", -4)
    .attr("stroke", d => d.color).attr("stroke-width", 2.5)
    .attr("stroke-dasharray", d => d.dash);
li.append("text")
    .attr("x", 21).attr("y", 0)
    .attr("font-size", 13).attr("fill", "#333")
    .text(d => d.name);

svg.append("text")
    .attr("x", 789).attr("y", 395)
    .attr("text-anchor", "end")
    .attr("font-size", 10).attr("fill", "#999")
    .text("Bron: ECMWF/KNMI");

svg.append("rect")
    .attr("x", 0.5).attr("y", 0.5)
    .attr("width", 796.5).attr("height", 397)
    .attr("rx", 3)
    .attr("fill", "none").attr("stroke", "#9fbfee");
</script>
</body>
</html>
